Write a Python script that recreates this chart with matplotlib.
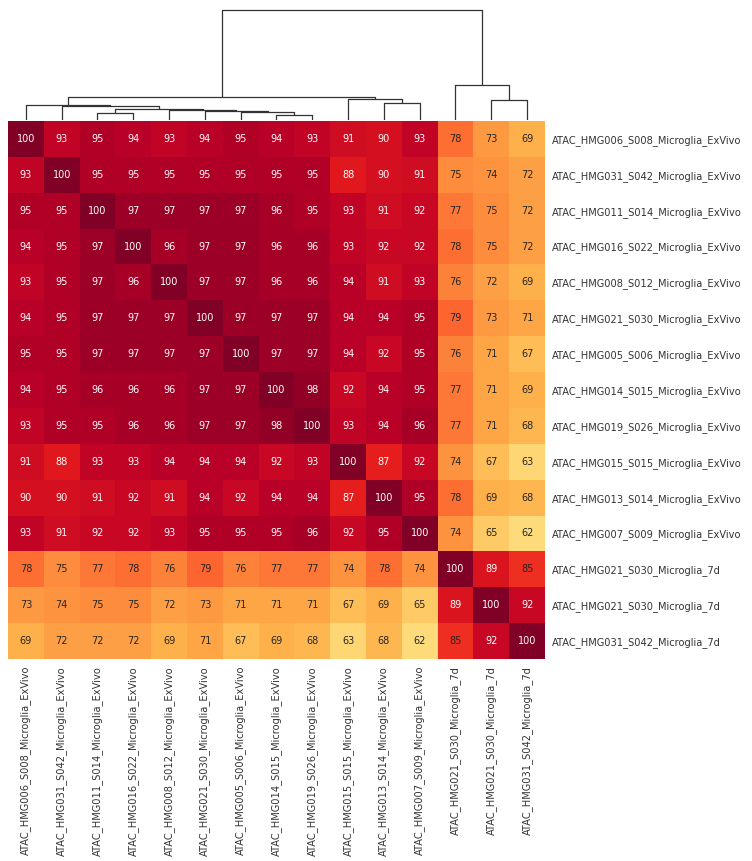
import numpy as np
import matplotlib
matplotlib.use("Agg")
import matplotlib.pyplot as plt
from matplotlib.collections import LineCollection

labels = [
    "ATAC_HMG006_S008_Microglia_ExVivo",
    "ATAC_HMG031_S042_Microglia_ExVivo",
    "ATAC_HMG011_S014_Microglia_ExVivo",
    "ATAC_HMG016_S022_Microglia_ExVivo",
    "ATAC_HMG008_S012_Microglia_ExVivo",
    "ATAC_HMG021_S030_Microglia_ExVivo",
    "ATAC_HMG005_S006_Microglia_ExVivo",
    "ATAC_HMG014_S015_Microglia_ExVivo",
    "ATAC_HMG019_S026_Microglia_ExVivo",
    "ATAC_HMG015_S015_Microglia_ExVivo",
    "ATAC_HMG013_S014_Microglia_ExVivo",
    "ATAC_HMG007_S009_Microglia_ExVivo",
    "ATAC_HMG021_S030_Microglia_7d",
    "ATAC_HMG021_S030_Microglia_7d",
    "ATAC_HMG031_S042_Microglia_7d",
]

similarity = [
    [100, 93, 95, 94, 93, 94, 95, 94, 93, 91, 90, 93, 78, 73, 69],
    [93, 100, 95, 95, 95, 95, 95, 95, 95, 88, 90, 91, 75, 74, 72],
    [95, 95, 100, 97, 97, 97, 97, 96, 95, 93, 91, 92, 77, 75, 72],
    [94, 95, 97, 100, 96, 97, 97, 96, 96, 93, 92, 92, 78, 75, 72],
    [93, 95, 97, 96, 100, 97, 97, 96, 96, 94, 91, 93, 76, 72, 69],
    [94, 95, 97, 97, 97, 100, 97, 97, 97, 94, 94, 95, 79, 73, 71],
    [95, 95, 97, 97, 97, 97, 100, 97, 97, 94, 92, 95, 76, 71, 67],
    [94, 95, 96, 96, 96, 97, 97, 100, 98, 92, 94, 95, 77, 71, 69],
    [93, 95, 95, 96, 96, 97, 97, 98, 100, 93, 94, 96, 77, 71, 68],
    [91, 88, 93, 93, 94, 94, 94, 92, 93, 100, 87, 92, 74, 67, 63],
    [90, 90, 91, 92, 91, 94, 92, 94, 94, 87, 100, 95, 78, 69, 68],
    [93, 91, 92, 92, 93, 95, 95, 95, 96, 92, 95, 100, 74, 65, 62],
    [78, 75, 77, 78, 76, 79, 76, 77, 77, 74, 78, 74, 100, 89, 85],
    [73, 74, 75, 75, 72, 73, 71, 71, 71, 67, 69, 65, 89, 100, 92],
    [69, 72, 72, 72, 69, 71, 67, 69, 68, 63, 68, 62, 85, 92, 100],
]

# dendrogram merges: (left node, right node, height); new nodes numbered from 15
merges = [
    (7, 8, 5), (2, 3, 6.5), (6, 15, 8), (5, 17, 9), (4, 18, 10),
    (16, 19, 11), (1, 20, 14), (0, 21, 15), (10, 11, 17), (13, 14, 20),
    (9, 23, 21), (22, 25, 22.5), (12, 24, 35), (26, 27, 109),
]

data = np.array(similarity, dtype=float)
n = len(labels)

W, H = 752, 861
fig = plt.figure(figsize=(W / 100, H / 100), dpi=100)
ax_hm = fig.add_axes([8 / W, 1 - 659 / H, 537 / W, 538 / H])
ax_den = fig.add_axes([8 / W, 1 - 120 / H, 537 / W, 115 / H])

ax_hm.pcolormesh(data, cmap="YlOrRd", vmin=50, vmax=100)
ax_hm.set_xlim(0, n)
ax_hm.set_ylim(n, 0)
for i in range(n):
    for j in range(n):
        v = data[i, j]
        ax_hm.text(j + 0.5, i + 0.5, "%d" % v, ha="center", va="center", fontsize=7,
                   color="white" if v >= 86 else "#262626")
ax_hm.set_xticks(np.arange(n) + 0.5)
ax_hm.set_xticklabels(labels, rotation=90, fontsize=7.15, color="#333333")
ax_hm.set_yticks(np.arange(n) + 0.5)
ax_hm.set_yticklabels(labels, fontsize=7.15, color="#333333")
ax_hm.yaxis.tick_right()
ax_hm.tick_params(length=0, pad=5)
for s in ax_hm.spines.values():
    s.set_visible(False)

# dendrogram
xpos = {i: i + 0.5 for i in range(n)}
hpos = {i: 0.0 for i in range(n)}
segs = []
for k, (a, b, h) in enumerate(merges):
    node = n + k
    segs.append([(xpos[a], hpos[a]), (xpos[a], h), (xpos[b], h), (xpos[b], hpos[b])])
    xpos[node] = (xpos[a] + xpos[b]) / 2
    hpos[node] = h
ax_den.add_collection(LineCollection(segs, colors=(0.2, 0.2, 0.2), linewidths=0.9))
ax_den.set_xlim(0, n)
ax_den.set_ylim(0, max(m[2] for m in merges) * 1.05)
ax_den.axis("off")

fig.savefig("out.png", dpi=100)
